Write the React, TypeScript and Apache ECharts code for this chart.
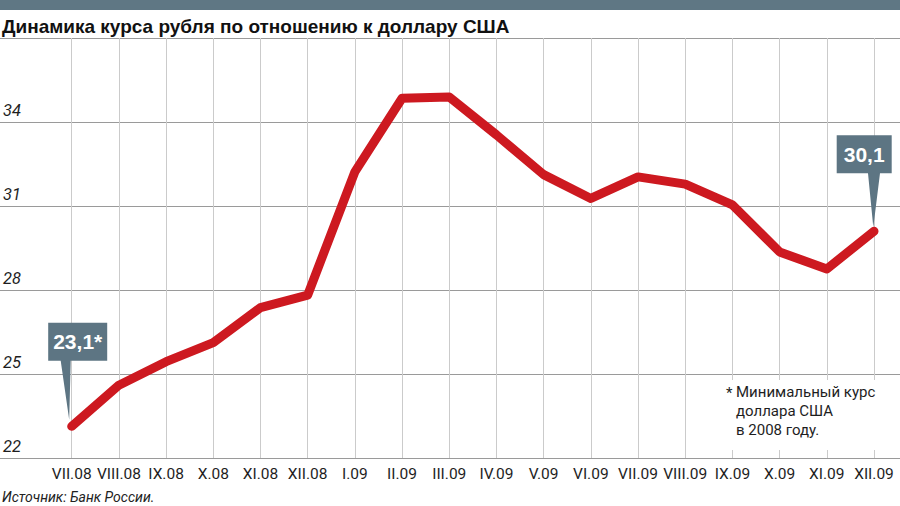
import React, { useEffect, useRef } from "react";
import * as echarts from "echarts";

const categories = [
  "VII.08", "VIII.08", "IX.08", "X.08", "XI.08", "XII.08",
  "I.09", "II.09", "III.09", "IV.09", "V.09", "VI.09",
  "VII.09", "VIII.09", "IX.09", "X.09", "XI.09", "XII.09",
];
const rubUsd = [
  23.13, 24.6, 25.44, 26.12, 27.37, 27.82,
  32.22, 34.85, 34.89, 33.54, 32.12, 31.27,
  32.04, 31.78, 31.04, 29.36, 28.75, 30.1,
];
const yTicks = [22, 25, 28, 31, 34, 37];
const calloutLabels = ["23,1*", "30,1"];
const titleText = "Динамика курса рубля по отношению к доллару США";
const sourceText = "Источник: Банк России.";
const footnoteLines = ["Минимальный курс", "доллара США", "в 2008 году."];

const CALLOUT = "#5d7583";
const RED = "#cd1920";

export default function App() {
  const ref = useRef<HTMLDivElement>(null);
  useEffect(() => {
    document.body.style.margin = "0";
    const chart = echarts.init(ref.current!, null, { renderer: "svg" });
    const yMin = yTicks[0];
    const yMax = yTicks[yTicks.length - 1];
    const calloutFont = "'Liberation Sans', Arial, sans-serif";
    chart.setOption({
      animation: false,
      backgroundColor: "#ffffff",
      grid: [
        { left: 0, right: 0, top: 38, bottom: 48 },
        { left: 71.7, right: 26, top: 38, bottom: 48 },
      ],
      xAxis: [
        { gridIndex: 0, type: "value", show: false, min: 0, max: 1 },
        {
          gridIndex: 1,
          type: "category",
          data: categories,
          boundaryGap: false,
          axisLine: { show: false },
          axisTick: { show: false },
          axisLabel: {
            interval: 0,
            margin: 8,
            color: "#1e1e1e",
            fontFamily: "Roboto, sans-serif",
            fontSize: 15.5,
          },
          splitLine: { show: true, interval: 0, lineStyle: { color: "#cbcbcb", width: 1 } },
        },
      ],
      yAxis: [
        {
          gridIndex: 0,
          type: "value",
          min: yMin,
          max: yMax,
          interval: 3,
          axisLine: { show: false },
          axisTick: { show: false },
          axisLabel: {
            inside: true,
            margin: 3,
            verticalAlign: "bottom",
            padding: [0, 0, 3, 0],
            color: "#1e1e1e",
            fontFamily: "Roboto, sans-serif",
            fontStyle: "italic",
            fontSize: 16.5,
            formatter: (v: number) => (v === yMax ? "" : String(v)),
          },
          splitLine: { show: true, lineStyle: { color: "#9a9a9a", width: 1 } },
        },
        { gridIndex: 1, type: "value", min: yMin, max: yMax, show: false, splitLine: { show: false } },
      ],
      series: [
        {
          type: "line",
          xAxisIndex: 1,
          yAxisIndex: 1,
          data: rubUsd,
          showSymbol: false,
          symbol: "none",
          z: 3,
          lineStyle: { color: RED, width: 9, cap: "round", join: "round" },
          markPoint: {
            z: 4,
            silent: true,
            data: [
              {
                coord: [0, rubUsd[0]],
                symbol: "path://M0,0 H59 V38 H22.5 L21,97 L12.5,38 H0 Z",
                symbolSize: [59, 97],
                symbolOffset: [6, -55],
                itemStyle: { color: CALLOUT },
                label: {
                  show: true,
                  position: "inside",
                  offset: [0, -29.5],
                  formatter: calloutLabels[0],
                  color: "#ffffff",
                  fontSize: 21,
                  fontWeight: "bold",
                  fontFamily: calloutFont,
                },
              },
              {
                coord: [categories.length - 1, rubUsd[rubUsd.length - 1]],
                symbol: "path://M0,0 H55 V38 H43.3 L36.6,92 L31.3,38 H0 Z",
                symbolSize: [55, 92],
                symbolOffset: [-9.8, -50],
                itemStyle: { color: CALLOUT },
                label: {
                  show: true,
                  position: "inside",
                  offset: [0, -27],
                  formatter: calloutLabels[1],
                  color: "#ffffff",
                  fontSize: 21,
                  fontWeight: "bold",
                  fontFamily: calloutFont,
                },
              },
            ],
          },
        },
      ],
      graphic: [
        { type: "rect", left: 0, top: 0, z: 10, shape: { width: 900, height: 10 }, style: { fill: "#5f7784" } },
        {
          type: "text",
          x: 2,
          y: 26,
          z: 10,
          style: {
            text: titleText,
            fill: "#111111",
            font: "bold 19px 'Liberation Sans', Arial, sans-serif",
            verticalAlign: "middle",
          },
        },
        { type: "rect", x: 700, y: 380, z: 10, shape: { width: 200, height: 70 }, style: { fill: "#ffffff" } },
        {
          type: "text",
          x: 726,
          y: 393,
          z: 11,
          style: { text: "*", fill: "#1e1e1e", font: "15px Roboto, sans-serif", verticalAlign: "middle" },
        },
        ...footnoteLines.map((t, i) => ({
          type: "text",
          x: 736,
          y: 392 + i * 19,
          z: 11,
          style: { text: t, fill: "#1e1e1e", font: "15px Roboto, sans-serif", verticalAlign: "middle" },
        })),
        {
          type: "text",
          x: 2,
          y: 497,
          z: 10,
          style: {
            text: sourceText,
            fill: "#222222",
            font: "italic 14px Roboto, sans-serif",
            verticalAlign: "middle",
          },
        },
      ],
    });
    return () => chart.dispose();
  }, []);
  return <div ref={ref} style={{ position: "absolute", left: 0, top: 0, width: 900, height: 506 }} />;
}
